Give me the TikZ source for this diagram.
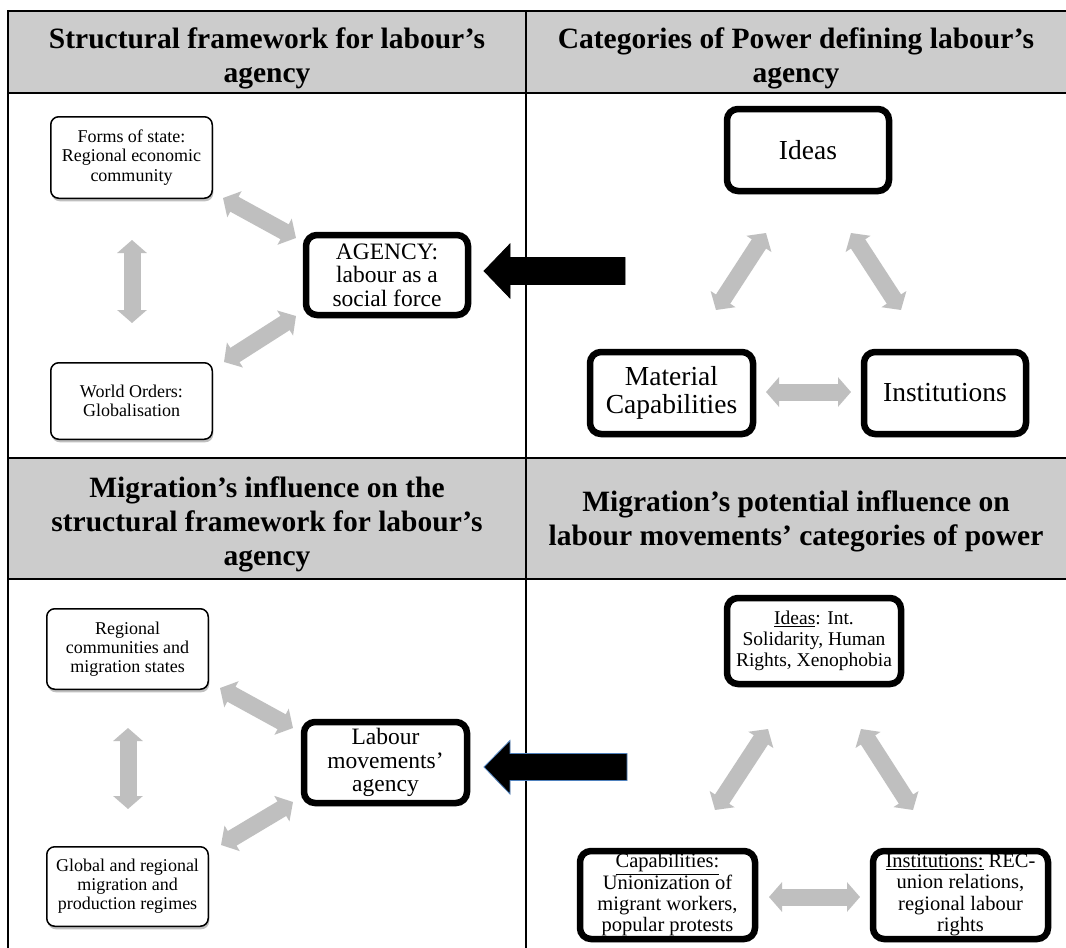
\documentclass[tikz,border=0pt]{standalone}
\usepackage{fontspec}
\setmainfont{Liberation Serif}
\usetikzlibrary{arrows.meta,shadows}
\definecolor{hdrgray}{HTML}{CCCCCC}
\definecolor{arrgray}{HTML}{BFBFBF}
\definecolor{edgeblue}{HTML}{4F81BD}
\tikzset{
  boxshadow/.style={drop shadow={shadow xshift=1pt, shadow yshift=-3pt, opacity=0.25, fill=black}},
  thinbox/.style={draw=black, line width=1.5pt, rounded corners=8pt, fill=white, align=center, inner sep=0pt, boxshadow},
  thickbox/.style={draw=black, line width=6.5pt, rounded corners=11pt, fill=white, align=center, inner sep=0pt, boxshadow},
  dbl/.style={draw=arrgray, line width=17pt, {Triangle[length=13pt,width=29pt]}-{Triangle[length=13pt,width=29pt]}},
  hdrtext/.style={font=\fontsize{29.5}{34}\selectfont\bfseries, align=center, inner sep=0pt},
  bigarrow/.style={fill=black, line width=0.8pt, line join=miter},
  tablerule/.style={draw=black, line width=1.5pt},
  hdrrule/.style={draw=black, line width=2.2pt},
}
\begin{document}
\begin{tikzpicture}[x=1pt, y=-1pt]
\clip (0,0) rectangle (1066,948);
\fill[white] (0,0) rectangle (1066,948);
% header fills
\fill[hdrgray] (8,11) rectangle (1070,93);
\fill[hdrgray] (8,458) rectangle (1070,579);
% table rules
\draw[tablerule] (8,952) -- (8,11) -- (1070,11);
\draw[tablerule] (526,11) -- (526,952);
\draw[hdrrule] (8,93) -- (1070,93);
\draw[hdrrule] (8,458) -- (1070,458);
\draw[hdrrule] (8,579) -- (1070,579);
% headers
\node[hdrtext] (h1) at (267,58) {Structural framework for labour’s\\agency};
\node[hdrtext] (h2) at (796,58) {Categories of Power defining labour’s\\agency};
\node[hdrtext] (h3) at (267,524) {Migration’s influence on the\\structural framework for labour’s\\agency};
\node[hdrtext] (h4) at (796,521) {Migration’s potential influence on\\labour movements’ categories of power};

% ---------- top left ----------
\node[thinbox, minimum width=161.5pt, minimum height=81.5pt, font=\fontsize{18}{19.5}\selectfont] (fs) at (131.5,157.5) {Forms of state:\\Regional economic\\community};
\node[thickbox, minimum width=162pt, minimum height=80pt, font=\fontsize{23.5}{23.5}\selectfont] (ag) at (387,275) {AGENCY:\\labour as a\\social force};
\node[thinbox, minimum width=161.5pt, minimum height=76.5pt, font=\fontsize{18}{19.5}\selectfont] (wo) at (131.5,401) {World Orders:\\Globalisation};
\coordinate (a1s) at (223,198); \coordinate (a1e) at (296,238);
\coordinate (a2s) at (132,240); \coordinate (a2e) at (132,323);
\coordinate (a3s) at (224,362); \coordinate (a3e) at (296,316);
\draw[dbl] (a1s) -- (a1e);
\draw[dbl] (a2s) -- (a2e);
\draw[dbl] (a3s) -- (a3e);

% ---------- top right ----------
\node[thickbox, minimum width=162pt, minimum height=82pt, font=\fontsize{27.5}{28}\selectfont] (id1) at (808,150) {Ideas};
\node[thickbox, minimum width=163pt, minimum height=82pt, font=\fontsize{27.5}{28}\selectfont] (mc) at (671.5,393) {Material\\Capabilities};
\node[thickbox, minimum width=162pt, minimum height=82pt, font=\fontsize{27.5}{28}\selectfont] (in1) at (945,393) {Institutions};
\coordinate (b1s) at (716,310); \coordinate (b1e) at (766,233);
\coordinate (b2s) at (851,233); \coordinate (b2e) at (901,310);
\coordinate (b3s) at (766,392); \coordinate (b3e) at (851,392);
\draw[dbl] (b1s) -- (b1e);
\draw[dbl] (b2s) -- (b2e);
\draw[dbl] (b3s) -- (b3e);

% big black arrow (top)
\coordinate (ta) at (484,271);
\filldraw[bigarrow, draw=black] (ta) -- ++(26,-27) -- ++(0,13.5) -- ++(115,0) -- ++(0,27) -- ++(-115,0) -- ++(0,13.5) -- cycle;

% ---------- bottom left ----------
\node[thinbox, minimum width=161.5pt, minimum height=80.5pt, font=\fontsize{18}{19}\selectfont] (rc) at (127.5,649) {Regional\\communities and\\migration states};
\node[thickbox, minimum width=163pt, minimum height=81pt, font=\fontsize{23.5}{23.5}\selectfont] (lm) at (385.5,762.5) {Labour\\movements’\\agency};
\node[thinbox, minimum width=161.5pt, minimum height=79.5pt, font=\fontsize{18}{19}\selectfont] (gr) at (127.5,886.5) {Global and regional\\migration and\\production regimes};
\coordinate (c1s) at (220,688); \coordinate (c1e) at (293,728);
\coordinate (c2s) at (128,728); \coordinate (c2e) at (128,809);
\coordinate (c3s) at (221,845); \coordinate (c3e) at (293,802);
\draw[dbl] (c1s) -- (c1e);
\draw[dbl] (c2s) -- (c2e);
\draw[dbl] (c3s) -- (c3e);

% big black arrow (bottom)
\coordinate (tb) at (484,767);
\filldraw[bigarrow, draw=edgeblue] (tb) -- ++(26,-26.5) -- ++(0,13) -- ++(117,0) -- ++(0,27) -- ++(-117,0) -- ++(0,13.5) -- cycle;

% ---------- bottom right ----------
\node[thickbox, minimum width=174pt, minimum height=86pt, font=\fontsize{19.5}{21}\selectfont] (id2) at (814,641) {\underline{Ideas}: Int.\\Solidarity, Human\\Rights, Xenophobia};
\node[thickbox, minimum width=175pt, minimum height=88pt, font=\fontsize{20.5}{21.3}\selectfont] (cp) at (667.5,895) {\underline{Capabilities:}\\Unionization of\\migrant workers,\\popular protests};
\node[thickbox, minimum width=175pt, minimum height=88pt, font=\fontsize{20.5}{21.3}\selectfont] (in2) at (960.5,895) {\underline{Institutions:} REC-\\union relations,\\regional labour\\rights};
\coordinate (d1s) at (715,810); \coordinate (d1e) at (768,729);
\coordinate (d2s) at (861,729); \coordinate (d2e) at (913,810);
\coordinate (d3s) at (769,897); \coordinate (d3e) at (860,897);
\draw[dbl] (d1s) -- (d1e);
\draw[dbl] (d2s) -- (d2e);
\draw[dbl] (d3s) -- (d3e);
\end{tikzpicture}
\end{document}
